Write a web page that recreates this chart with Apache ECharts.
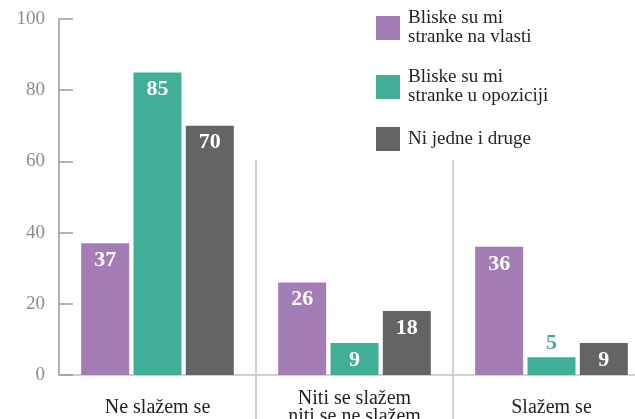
<!DOCTYPE html>
<html>
<head>
<meta charset="utf-8">
<script src="https://cdn.jsdelivr.net/npm/echarts@6/dist/echarts.min.js"></script>
<style>
  html, body { margin: 0; padding: 0; background: #fff; }
  #chart { width: 635px; height: 419px; }
</style>
</head>
<body>
<div id="chart"></div>
<script>
// podaci
const categories = ["Ne slažem se", "Niti se slažem\nniti se ne slažem", "Slažem se"];
const seriesNames = [
  "Bliske su mi\nstranke na vlasti",
  "Bliske su mi\nstranke u opoziciji",
  "Ni jedne i druge",
];
const vlast = [37, 26, 36];
const opozicija = [85, 9, 5];
const nijedne = [70, 18, 9];
const yTicks = [0, 20, 40, 60, 80, 100];

const colors = ["#a47cb6", "#41ae98", "#636466"];
const serif = "'Liberation Serif', 'DejaVu Serif', serif";

// mala vrijednost -> natpis iznad stupca, u boji stupca
function toData(values, color) {
  return values.map((v) => {
    if (v < 8) {
      return { value: v, label: { position: "top", distance: 3, color: color } };
    }
    return v;
  });
}

const chart = echarts.init(document.getElementById("chart"), null, { renderer: "canvas" });

const barLabel = {
  show: true,
  position: "insideTop",
  distance: 6,
  color: "#fff",
  fontFamily: serif,
  fontWeight: "bold",
  fontSize: 22,
};

const option = {
  animation: false,
  color: colors,
  grid: { left: 59, right: -15, top: 19, bottom: 44, outerBoundsMode: "none", containLabel: false },
  legend: {
    orient: "vertical",
    left: 371,
    top: 4,
    itemWidth: 24,
    itemHeight: 24,
    itemGap: 21,
    icon: "rect",
    textStyle: {
      fontFamily: serif,
      fontSize: 19,
      lineHeight: 19,
      color: "#231f20",
      padding: [0, 0, 0, 3],
    },
    data: seriesNames,
  },
  xAxis: [
    {
      type: "category",
      position: "bottom",
      data: categories,
      axisLine: { lineStyle: { color: "#c2c2c2", width: 1.5 } },
      axisTick: {
        show: true,
        inside: false,
        length: 44,
        interval: (i) => i > 0,
        lineStyle: { color: "#c2c2c2", width: 1.5 },
      },
      axisLabel: {
        margin: 33,
        verticalAlign: "middle",
        color: "#231f20",
        fontFamily: serif,
        fontSize: 20,
        lineHeight: 18,
      },
    },
    {
      type: "category",
      position: "bottom",
      offset: 0,
      data: categories,
      axisLine: { show: false },
      axisTick: {
        show: true,
        inside: true,
        length: 215,
        interval: (i) => i > 0,
        lineStyle: { color: "#c2c2c2", width: 1.5 },
      },
      axisLabel: { show: false },
    },
  ],
  yAxis: {
    type: "value",
    min: yTicks[0],
    max: yTicks[yTicks.length - 1],
    interval: yTicks[1] - yTicks[0],
    axisLine: { show: true, lineStyle: { color: "#9a9a9a", width: 1.5 } },
    axisTick: { show: true, inside: true, length: 14, lineStyle: { color: "#9a9a9a", width: 1.5 } },
    splitLine: { show: false },
    axisLabel: {
      margin: 14,
      color: "#8c8c8c",
      fontFamily: serif,
      fontSize: 19,
    },
  },
  series: [
    { name: seriesNames[0], type: "bar", data: toData(vlast, colors[0]), barWidth: 48, barGap: "9%", label: barLabel },
    { name: seriesNames[1], type: "bar", data: toData(opozicija, colors[1]), barWidth: 48, barGap: "9%", label: barLabel },
    { name: seriesNames[2], type: "bar", data: toData(nijedne, colors[2]), barWidth: 48, barGap: "9%", label: barLabel },
  ],
};

chart.setOption(option);
</script>
</body>
</html>
